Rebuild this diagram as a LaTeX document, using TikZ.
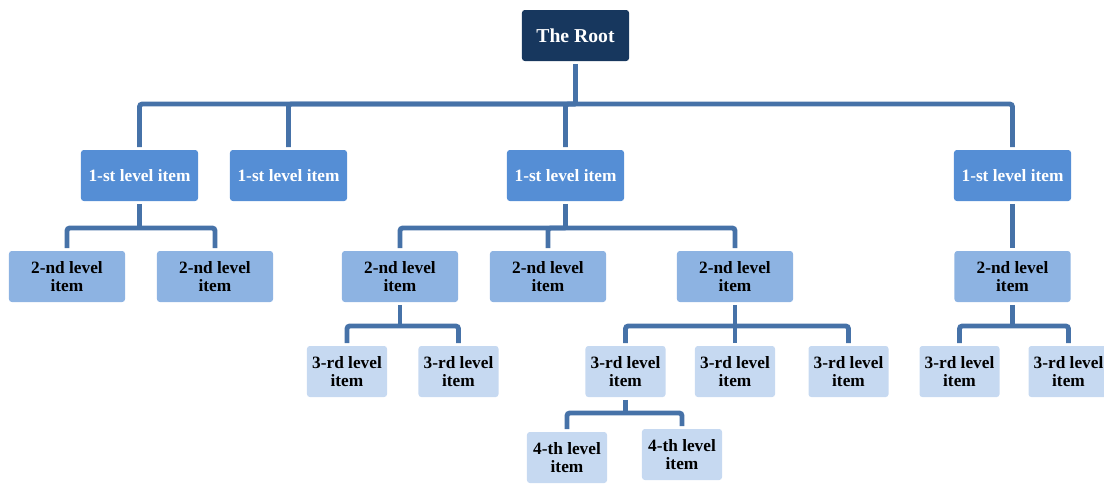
\documentclass[tikz,border=0pt]{standalone}
\usepackage{fontspec}
\setmainfont{Liberation Serif}
\usepackage{tikz}
\usetikzlibrary{calc}
\usepackage{xcolor}

\definecolor{rootblue}{HTML}{17375E}
\definecolor{firstblue}{HTML}{558ED5}
\definecolor{secondblue}{HTML}{8DB3E2}
\definecolor{thirdblue}{HTML}{C6D9F1}
\definecolor{linkblue}{HTML}{4672A8}

\tikzset{
	box/.style={rectangle, rounded corners=2pt, inner sep=0pt, outer sep=2pt,
		minimum height=1.275cm, align=center, font=\bfseries\fontsize{12.3}{12.8}\selectfont},
	rootbox/.style={box, fill=rootblue, text=white, minimum width=2.675cm,
		font=\bfseries\fontsize{14}{16}\selectfont},
	firstbox/.style={box, fill=firstblue, text=white, minimum width=2.925cm},
	secondbox/.style={box, fill=secondblue, minimum width=2.9cm},
	thirdbox/.style={box, fill=thirdblue, minimum width=2cm},
	link/.style={draw=linkblue, line width=3.5pt, rounded corners=2pt}
}

\begin{document}
\begin{tikzpicture}[x=0.025cm, y=-0.025cm]
	\useasboundingbox (0,0) rectangle (1104,483);
	% root and first level
	\node[rootbox] (root) at (575.5,35.5) {The Root};
	\node[firstbox] (l1a) at (139.5,175.5) {1-st level item};
	\node[firstbox] (l1b) at (288.5,175.5) {1-st level item};
	\node[firstbox] (l1c) at (565.5,175.5) {1-st level item};
	\node[firstbox] (l1d) at (1012.5,175.5) {1-st level item};
	% second level
	\node[secondbox] (l2a) at (67,276.5) {2-nd level\\item};
	\node[secondbox] (l2b) at (215,276.5) {2-nd level\\item};
	\node[secondbox] (l2c) at (400,276.5) {2-nd level\\item};
	\node[secondbox] (l2d) at (548,276.5) {2-nd level\\item};
	\node[secondbox] (l2e) at (735,276.5) {2-nd level\\item};
	\node[secondbox] (l2f) at (1012.5,276.5) {2-nd level\\item};
	% third level
	\node[thirdbox] (l3a) at (347,371.5) {3-rd level\\item};
	\node[thirdbox] (l3b) at (458.5,371.5) {3-rd level\\item};
	\node[thirdbox] (l3c) at (625.5,371.5) {3-rd level\\item};
	\node[thirdbox] (l3d) at (735,371.5) {3-rd level\\item};
	\node[thirdbox] (l3e) at (848.5,371.5) {3-rd level\\item};
	\node[thirdbox] (l3f) at (959.5,371.5) {3-rd level\\item};
	\node[thirdbox] (l3g) at (1068.5,371.5) {3-rd level\\item};
	% fourth level
	\node[thirdbox] (l4a) at (567,457.5) {4-th level\\item};
	\node[thirdbox] (l4b) at (682,454.5) {4-th level\\item};

	% bars
	\coordinate (b0) at (575.5,104);
	\coordinate (b1) at (139.5,228);
	\coordinate (b2) at (565.5,228);
	\coordinate (b3) at (400,326);
	\coordinate (b4) at (735,326);
	\coordinate (b5) at (1012.5,326);
	\coordinate (b6) at (625.5,413);

	\draw[link] (root.south) -- (b0);
	\draw[link] (l1a.north) |- (b0) -| (l1d.north);
	\draw[link] (l1b.north) |- (b0);
	\draw[link] (l1c.north) |- (b0);

	\draw[link] (l1a.south) -- (b1);
	\draw[link] (l2a.north) |- (b1) -| (l2b.north);

	\draw[link] (l1c.south) -- (b2);
	\draw[link] (l2c.north) |- (b2) -| (l2e.north);
	\draw[link] (l2d.north) |- (b2);

	\draw[link] (l1d.south) -- (l2f.north);

	\draw[link] (l2c.south) -- (b3);
	\draw[link] (l3a.north) |- (b3) -| (l3b.north);

	\draw[link] (l2e.south) -- (b4);
	\draw[link] (l3c.north) |- (b4) -| (l3e.north);
	\draw[link] (l3d.north) |- (b4);

	\draw[link] (l2f.south) -- (b5);
	\draw[link] (l3f.north) |- (b5) -| (l3g.north);

	\draw[link] (l3c.south) -- (b6);
	\draw[link] (l4a.north) |- (b6) -| (l4b.north);
\end{tikzpicture}
\end{document}
